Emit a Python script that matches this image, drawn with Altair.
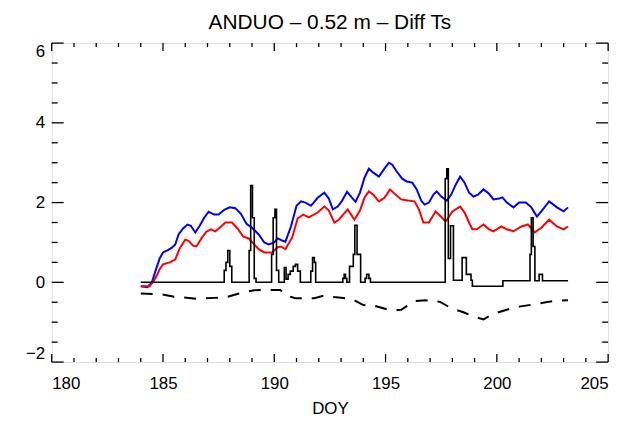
import altair as alt
import pandas as pd

# ---- data ----
blue_doy = [184.0, 184.3, 184.5, 184.7, 184.85, 185.0, 185.2, 185.4, 185.55, 185.7, 185.9, 186.1, 186.25,
            186.45, 186.65, 186.85, 187.05, 187.3, 187.5, 187.75, 188.0, 188.25, 188.5, 188.75, 189.0,
            189.3, 189.55, 189.75, 190.0, 190.15, 190.35, 190.5, 190.75, 191.0, 191.2, 191.4, 191.65,
            191.95, 192.25, 192.45, 192.63, 192.85, 193.05, 193.27, 193.45, 193.65, 193.85, 194.05,
            194.25, 194.45, 194.7, 194.95, 195.15, 195.3, 195.5, 195.75, 195.95, 196.2, 196.4, 196.6,
            196.75, 196.95, 197.15, 197.3, 197.5, 197.75, 197.95, 198.15, 198.35, 198.55, 198.75,
            198.95, 199.15, 199.4, 199.65, 199.85, 200.1, 200.25, 200.45, 200.75, 201.0, 201.3,
            201.55, 201.8, 202.0, 202.35, 202.7, 203.0, 203.2]
blue_val = [-0.10, -0.12, 0.0, 0.35, 0.6, 0.75, 0.8, 0.87, 0.95, 1.2, 1.35, 1.45, 1.42,
            1.25, 1.42, 1.62, 1.77, 1.70, 1.70, 1.82, 1.88, 1.86, 1.72, 1.47, 1.37,
            1.2, 1.0, 0.95, 1.0, 1.1, 1.05, 1.02, 1.4, 1.92, 2.03, 2.0, 1.92,
            2.12, 2.25, 2.1, 1.83, 1.9, 2.05, 2.27, 2.15, 2.02, 2.25, 2.62,
            2.85, 2.75, 2.65, 2.85, 3.0, 2.95, 2.78, 2.6, 2.53, 2.5, 2.33, 2.05,
            1.95, 2.0, 2.2, 2.28, 2.15, 2.05, 2.2, 2.45, 2.65, 2.5, 2.25,
            2.15, 2.2, 2.33, 2.22, 2.08, 2.1, 2.13, 2.0, 1.88, 2.0, 2.0,
            1.88, 1.65, 1.78, 2.03, 1.88, 1.78, 1.88]

red_doy = [184.0, 184.4, 184.6, 184.75, 184.85, 185.0, 185.3, 185.55, 185.75, 186.0, 186.15, 186.35,
           186.5, 186.75, 186.95, 187.15, 187.35, 187.55, 187.8, 188.1, 188.35, 188.6, 188.85, 189.1,
           189.3, 189.55, 189.9, 190.15, 190.3, 190.5, 190.8, 191.05, 191.3, 191.55, 191.95, 192.25,
           192.45, 192.7, 192.9, 193.3, 193.6, 193.85, 194.05, 194.25, 194.45, 194.7, 194.95, 195.2,
           195.45, 195.7, 196.0, 196.3, 196.5, 196.7, 196.95, 197.25, 197.45, 197.7, 198.0, 198.35,
           198.55, 198.75, 198.9, 199.1, 199.4, 199.65, 199.85, 200.2, 200.45, 200.75, 201.1, 201.4,
           201.7, 202.0, 202.35, 202.7, 203.0, 203.2]
red_val = [-0.10, -0.10, 0.05, 0.2, 0.33, 0.45, 0.5, 0.57, 0.85, 1.07, 1.04, 0.92,
           0.9, 1.12, 1.27, 1.33, 1.28, 1.37, 1.5, 1.5, 1.35, 1.15, 1.1, 0.95,
           0.83, 0.75, 0.75, 0.88, 0.9, 0.83, 1.12, 1.6, 1.7, 1.63, 1.75, 1.9,
           1.8, 1.5, 1.57, 1.83, 1.57, 1.8, 2.12, 2.28, 2.2, 2.03, 2.12, 2.33,
           2.2, 2.08, 2.05, 2.03, 1.83, 1.5, 1.5, 1.78, 1.67, 1.52, 1.78, 1.9,
           1.75, 1.5, 1.33, 1.33, 1.45, 1.33, 1.28, 1.4, 1.33, 1.28, 1.4, 1.45,
           1.25, 1.37, 1.57, 1.4, 1.33, 1.4]

dash_doy = [184.0, 184.9, 185.5, 186.5, 187.3, 187.8, 188.3, 188.8, 189.1, 189.65, 190.27, 190.5,
            190.95, 191.8, 192.2, 192.9, 193.5, 194.0, 194.5, 195.2, 195.7, 196.3, 196.8, 197.45,
            197.98, 198.5, 198.95, 199.4, 199.8, 200.6, 201.0, 201.7, 202.2, 202.7, 203.2]
dash_val = [-0.28, -0.3, -0.36, -0.41, -0.39, -0.38, -0.3, -0.23, -0.2, -0.19, -0.19, -0.32,
            -0.4, -0.4, -0.34, -0.38, -0.42, -0.57, -0.59, -0.7, -0.69, -0.47, -0.45, -0.49,
            -0.66, -0.75, -0.86, -0.93, -0.8, -0.66, -0.61, -0.55, -0.5, -0.46, -0.45]

bar_doy = [184.0, 187.75, 187.83, 187.91, 188.0, 188.09, 188.87, 188.94, 189.02, 189.1, 189.18,
           189.88, 189.95, 190.03, 190.1, 190.2, 190.45, 190.53, 190.62, 190.72, 190.85, 190.95,
           191.05, 191.17, 191.64, 191.72, 191.8, 191.86, 193.08, 193.14, 193.2, 193.26, 193.38,
           193.55, 193.62, 193.72, 193.88, 194.08, 194.15, 194.25, 194.32, 197.68, 197.75, 197.82,
           197.92, 198.05, 198.44, 198.63, 198.84, 198.9, 200.27, 201.49, 201.55, 201.63, 201.71,
           201.9, 202.05, 203.2]
bar_val = [0.0, 0.3, 0.5, 0.8, 0.4, 0.0, 0.8, 2.43, 1.62, 0.1, 0.0,
           0.7, 1.62, 1.83, 0.3, 0.0, 0.37, 0.08, 0.2, 0.28, 0.4, 0.45,
           0.28, 0.0, 0.28, 0.62, 0.5, 0.0, 0.1, 0.2, 0.1, 0.0, 0.4,
           0.7, 1.43, 0.7, 0.0, 0.1, 0.2, 0.1, 0.0, 2.6, 2.85, 0.6,
           1.42, 0.05, 0.62, 0.2, 0.05, -0.1, 0.04, 0.7, 1.62, 0.9, 0.04,
           0.2, 0.04, 0.04]

x_labels = [180, 185, 190, 195, 200, 205]
x_minor = [181, 182, 183, 184, 186, 187, 188, 189, 191, 192, 193, 194,
           196, 197, 198, 199, 201, 202, 203, 204]
y_labels = [-2, 0, 2, 4, 6]
y_minor = [-1.5, -1, -0.5, 0.5, 1, 1.5, 2.5, 3, 3.5, 4.5, 5, 5.5]

# ---- layout constants ----
W, H = 560, 321
FONT = "Liberation Sans"

xs = alt.Scale(domain=[180, 205], nice=False, zero=False)
ys = alt.Scale(domain=[-2, 6], nice=False, zero=False)

x_axis = alt.Axis(values=x_labels, ticks=False, tickSize=0, domain=False, grid=False,
                  labelPadding=14, labelFontSize=17, labelFont=FONT, labelColor="black",
                  title="DOY", titleFont=FONT, titleFontSize=17, titleFontWeight="normal",
                  titleColor="black", titlePadding=9)
y_axis = alt.Axis(values=y_labels, ticks=False, tickSize=0, domain=False, grid=False,
                  labelPadding=7, labelFontSize=17, labelFont=FONT, labelColor="black",
                  labelFlush=True, title=None)


def X(field):
    return alt.X(field, scale=xs, axis=x_axis)


def Y(field):
    return alt.Y(field, scale=ys, axis=y_axis)


blue_df = pd.DataFrame({"doy": blue_doy, "v": blue_val})
red_df = pd.DataFrame({"doy": red_doy, "v": red_val})
dash_df = pd.DataFrame({"doy": dash_doy, "v": dash_val})
bar_df = pd.DataFrame({"doy": bar_doy, "v": bar_val})

blue = alt.Chart(blue_df).mark_line(color="#0000ff", strokeWidth=2).encode(x=X("doy:Q"), y=Y("v:Q"))
red = alt.Chart(red_df).mark_line(color="#ff0000", strokeWidth=2).encode(x=X("doy:Q"), y=Y("v:Q"))
dash = alt.Chart(dash_df).mark_line(color="black", strokeWidth=2, strokeDash=[12, 10]).encode(
    x=X("doy:Q"), y=Y("v:Q"))
bars = alt.Chart(bar_df).mark_line(color="black", strokeWidth=1.6, interpolate="step-after").encode(
    x=X("doy:Q"), y=Y("v:Q"))


def xticks(vals, length):
    df = pd.DataFrame({"t": vals})
    base = alt.Chart(df).mark_rule(color="black", strokeWidth=1.3)
    bot = base.encode(x=X("t:Q"), y=alt.value(H), y2=alt.value(H - length))
    top = base.encode(x=X("t:Q"), y=alt.value(0), y2=alt.value(length))
    return [bot, top]


def yticks(vals, length):
    df = pd.DataFrame({"t": vals})
    base = alt.Chart(df).mark_rule(color="black", strokeWidth=1.3)
    left = base.encode(y=Y("t:Q"), x=alt.value(0), x2=alt.value(length))
    right = base.encode(y=Y("t:Q"), x=alt.value(W), x2=alt.value(W - length))
    return [left, right]


tick_layers = xticks(x_labels, 8) + xticks(x_minor, 4) + yticks(y_labels, 12) + yticks(y_minor, 6)

chart = alt.layer(blue, red, dash, bars, *tick_layers).properties(
    width=W, height=H,
    title=alt.TitleParams("ANDUO – 0.52 m – Diff Ts", font=FONT, fontSize=21,
                          fontWeight="normal", color="black", anchor="middle", offset=9),
    autosize=alt.AutoSizeParams(type="none"),
    padding={"left": 44, "top": 34, "right": 20, "bottom": 60},
).configure_view(stroke="black", strokeWidth=1.5).configure(background="white")

chart.save("out.html", embed_options={"renderer": "svg", "actions": False})
